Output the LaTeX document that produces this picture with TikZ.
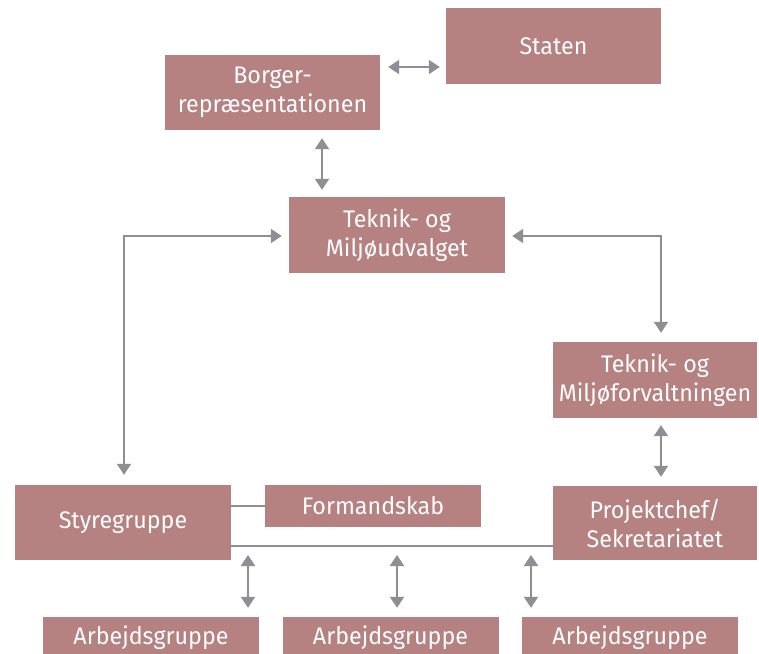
\documentclass[tikz,border=0pt]{standalone}
\usepackage{fontspec}
\setmainfont[FakeStretch=0.97]{Fira Sans}
\usetikzlibrary{arrows.meta}
\definecolor{boxc}{RGB}{181,129,129}
\definecolor{linec}{RGB}{142,142,148}
\tikzset{
  orgbox/.style={fill=boxc, text=white, align=center, inner sep=0pt,
    font=\fontsize{24}{29}\selectfont, minimum width=216pt, minimum height=76pt},
  smallbox/.style={orgbox, minimum height=42pt},
  conn/.style={draw=linec, line width=2pt},
  dbl/.style={conn, {Triangle[length=11pt,width=14pt]}-{Triangle[length=11pt,width=14pt]}},
}
\begin{document}
\begin{tikzpicture}[x=1pt,y=-1pt]
\useasboundingbox (0,0) rectangle (759,653);
\clip (0,0) rectangle (759,653);
\node[orgbox, minimum width=215pt] (staten) at (553.5,46) {Staten};
\node[orgbox, minimum width=215pt, minimum height=75pt] (borger) at (272.5,92.5) {Borger-\\repræsentationen};
\node[orgbox] (tmu) at (397,235) {Teknik- og\\Miljøudvalget};
\node[orgbox, minimum width=204pt] (tmf) at (655,380) {Teknik- og\\Miljøforvaltningen};
\node[orgbox, minimum width=204pt, minimum height=74pt] (proj) at (655,523) {Projektchef/\\Sekretariatet};
\node[orgbox, minimum height=75pt] (styre) at (123,522.5) {Styregruppe};
\node[smallbox] (forman) at (373,506) {Formandskab};
\node[smallbox] (arb1) at (151,638) {Arbejdsgruppe};
\node[smallbox] (arb2) at (390.5,638) {Arbejdsgruppe};
\node[smallbox] (arb3) at (630,638) {Arbejdsgruppe};
% connectors
\draw[dbl, shorten <=8pt, shorten >=6pt] (borger.east |- 0,67) -- (staten.west |- 0,67);
\draw[dbl, shorten <=8pt, shorten >=7pt] (borger.south -| 322,0) -- (tmu.north -| 322,0);
\coordinate (lc) at (124,236);
\draw[dbl, shorten <=7pt, shorten >=10pt] (tmu.west |- lc) -| (styre.north -| lc);
\coordinate (rc) at (661,236);
\draw[dbl, shorten <=7pt, shorten >=9pt] (tmu.east |- rc) -| (tmf.north -| rc);
\draw[dbl, shorten <=7pt, shorten >=9pt] (tmf.south -| rc) -- (proj.north -| rc);
\draw[conn] (styre.east |- forman.west) -- (forman.west);
\coordinate (bl) at (0,546);
\draw[conn] (styre.east |- bl) -- (proj.west |- bl);
\foreach \x/\b in {248/arb1, 397/arb2, 531/arb3}{
  \draw[dbl, shorten <=9pt, shorten >=9pt] (\x,546) -- (\b.north -| \x,0);
}
\end{tikzpicture}
\end{document}
